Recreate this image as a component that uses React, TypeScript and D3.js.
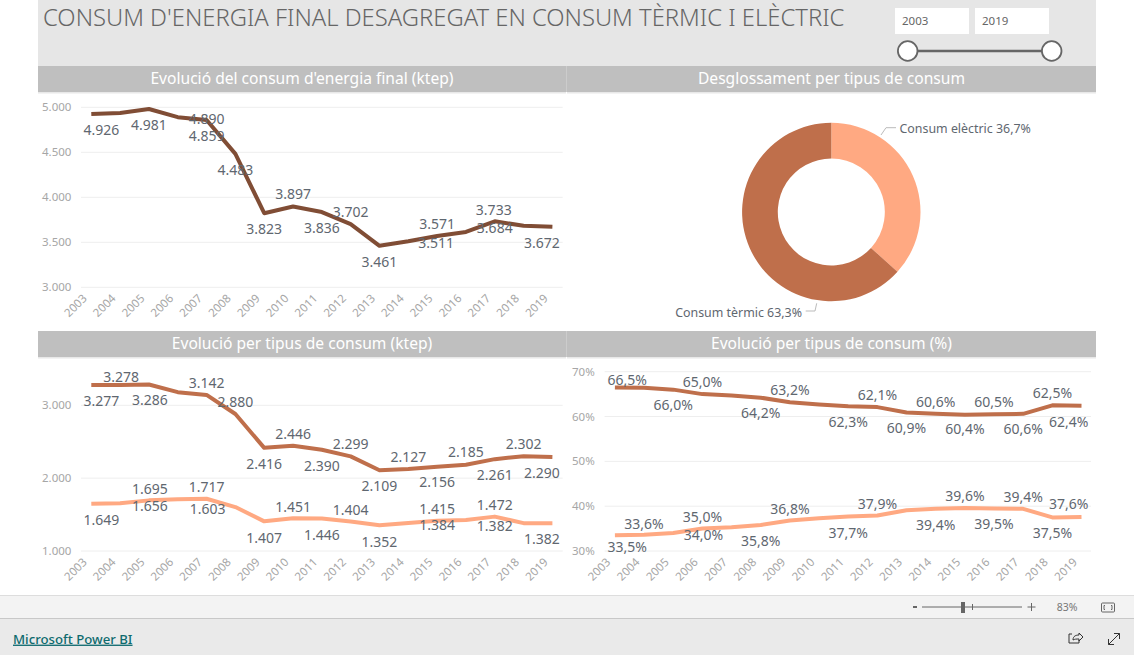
import * as d3 from "d3";

const years = d3.range(2003, 2020);

const totalKtep = [4926, 4937, 4981, 4890, 4859, 4483, 3823, 3897, 3836, 3702, 3461, 3511, 3571, 3615, 3733, 3684, 3672];
const thermalKtep = [3277, 3278, 3286, 3180, 3142, 2880, 2416, 2446, 2390, 2299, 2109, 2127, 2156, 2185, 2261, 2302, 2290];
const electricKtep = [1649, 1656, 1695, 1712, 1717, 1603, 1407, 1451, 1446, 1404, 1352, 1384, 1415, 1425, 1472, 1382, 1382];
const thermalPct = [66.5, 66.4, 66.0, 65.0, 64.7, 64.2, 63.2, 62.7, 62.3, 62.1, 60.9, 60.6, 60.4, 60.5, 60.6, 62.5, 62.4];
const electricPct = [33.5, 33.6, 34.0, 35.0, 35.3, 35.8, 36.8, 37.3, 37.7, 37.9, 39.1, 39.4, 39.6, 39.5, 39.4, 37.5, 37.6];

const ktepTicks1 = [3000, 3500, 4000, 4500, 5000];
const ktepTicks2 = [1000, 2000, 3000];
const pctTicks = [30, 40, 50, 60, 70];

const donutNames = ["Consum elèctric", "Consum tèrmic"];
const donutValues = [36.7, 63.3];

// label layout: [year of the value, year it is printed under, dy, dx]
type Lab = [number, number, number, number];
const totalLabels: Lab[] = [
  [2003, 2003, 16, 10], [2005, 2005, 15.7, 0], [2006, 2007, 1.5, 0], [2007, 2007, 15.7, 0],
  [2008, 2008, 15.9, 0], [2009, 2009, 15.8, 0], [2010, 2010, -12.3, 0], [2011, 2011, 15.7, 0],
  [2012, 2012, -12.1, 0], [2013, 2013, 15.9, 0], [2014, 2015, 1.4, -1], [2015, 2015, -12.2, 0],
  [2017, 2017, -11.6, -1], [2018, 2017, 2.6, 0], [2019, 2019, 15.9, -10.5],
];
const thermalLabels: Lab[] = [
  [2003, 2003, 15.6, 10], [2004, 2004, -8.3, 1], [2005, 2005, 15.5, 1], [2007, 2007, -12.3, 0],
  [2008, 2008, -12.3, 0], [2009, 2009, 15.9, 0], [2010, 2010, -12, 0], [2011, 2011, 16.3, 0],
  [2012, 2012, -12, 0], [2013, 2013, 15.5, 0], [2014, 2014, -12.2, 0], [2015, 2015, 15.5, 0],
  [2016, 2016, -12.4, 0], [2017, 2017, 15.9, 0], [2018, 2018, -12.1, 0], [2019, 2019, 15.7, -10.5],
];
const electricLabels: Lab[] = [
  [2003, 2003, 16, 10], [2004, 2005, 2.5, 1], [2005, 2005, -11.4, 1], [2007, 2007, -11.8, 0],
  [2008, 2007, 1.9, 1], [2009, 2009, 16.4, 0], [2010, 2010, -11.4, 0], [2011, 2011, 16.5, 0],
  [2012, 2012, -11.9, 0], [2013, 2013, 16.3, 0], [2014, 2015, 2, 0], [2015, 2015, -11.8, 0],
  [2017, 2017, -11.9, 0], [2018, 2017, 2.8, 0], [2019, 2019, 15.8, -10.5],
];
const thermalPctLabels: Lab[] = [
  [2003, 2003, -7.4, 12.4], [2005, 2005, 15.4, 0], [2006, 2006, -12.1, 0], [2008, 2008, 15.3, 0],
  [2009, 2009, -12.2, 0], [2011, 2011, 15.5, 0], [2012, 2012, -12.4, 0], [2013, 2013, 15.2, 0],
  [2014, 2014, -12.1, 0], [2015, 2015, 14.6, 0], [2016, 2016, -12.6, 0], [2017, 2017, 15.5, 0],
  [2018, 2018, -12.6, 0], [2019, 2019, 16.5, -12.7],
];
const electricPctLabels: Lab[] = [
  [2003, 2003, 11.7, 12.4], [2004, 2004, -11.2, 0], [2005, 2006, 2.2, 1], [2006, 2006, -11.9, 0],
  [2008, 2008, 16, 0], [2009, 2009, -11.5, 0], [2011, 2011, 16.2, 0], [2012, 2012, -11.9, 0],
  [2014, 2014, 16.1, 0], [2015, 2015, -12.3, 0], [2016, 2016, 15.3, 0], [2017, 2017, -12.2, 0],
  [2018, 2018, 15.3, 0], [2019, 2019, -12.6, -12.7],
];

const FONT = "'Noto Sans', sans-serif";
const DARK = "#804d35";
const THERMAL = "#bf6f4b";
const ELECTRIC = "#ffa982";
const LABEL = "#5f6770";
const TICK = "#a6a6a6";

const locale = d3.formatLocale({ decimal: ",", thousands: ".", grouping: [3], currency: ["", "€"] });
const fmtKtep = locale.format(",.0f");
const fmtPct1 = (v: number) => locale.format(".1f")(v) + "%";
const fmtPct0 = (v: number) => v + "%";

interface Series {
  values: number[];
  color: string;
  labels: Lab[];
}

interface ChartProps {
  series: Series[];
  ticks: number[];
  fmtTick: (v: number) => string;
  fmtLabel: (v: number) => string;
  xRange: [number, number];
  gridRange: [number, number];
  yDomain: [number, number];
  yRange: [number, number];
  tickX: number;
}

function LineChart({ series, ticks, fmtTick, fmtLabel, xRange, gridRange, yDomain, yRange, tickX }: ChartProps) {
  const x = d3.scalePoint<number>().domain(years).range(xRange);
  const y = d3.scaleLinear().domain(yDomain).range(yRange);
  const line = d3
    .line<number>()
    .x((_, i) => x(years[i]) as number)
    .y((d) => y(d));
  return (
    <g fontFamily={FONT}>
      {ticks.map((t) => (
        <g key={t}>
          <line x1={gridRange[0]} x2={gridRange[1]} y1={y(t)} y2={y(t)} stroke="#eeeeee" />
          <text x={tickX} y={y(t)} dy="0.35em" fontSize={11.5} fill={TICK}>
            {fmtTick(t)}
          </text>
        </g>
      ))}
      {years.map((yr) => (
        <text
          key={yr}
          transform={`translate(${(x(yr) as number) - 6.5},${yRange[0] + 9}) rotate(-45)`}
          textAnchor="end"
          dy="0.35em"
          fontSize={11.5}
          fill={TICK}
        >
          {yr}
        </text>
      ))}
      {series.map((s, i) => (
        <path key={i} d={line(s.values) as string} fill="none" stroke={s.color} strokeWidth={4} strokeLinejoin="round" />
      ))}
      {series.map((s, i) =>
        s.labels.map(([yr, at, dy, dx], j) => {
          const v = s.values[years.indexOf(yr)];
          return (
            <text
              key={`${i}-${j}`}
              x={(x(at) as number) + dx}
              y={y(v) + dy}
              dy="0.35em"
              textAnchor="middle"
              fontSize={14}
              fill={LABEL}
            >
              {fmtLabel(v)}
            </text>
          );
        })
      )}
    </g>
  );
}

function Donut() {
  const pie = d3.pie<number>().sort(null);
  const arc = d3.arc<d3.PieArcDatum<number>>().innerRadius(53.5).outerRadius(89.2);
  const slices = pie(donutValues);
  const colors = [ELECTRIC, THERMAL];
  return (
    <g fontFamily={FONT}>
      <g transform="translate(831.3,212)">
        {slices.map((s, i) => (
          <path key={i} d={arc(s) as string} fill={colors[i]} />
        ))}
      </g>
      <polyline points="881,135 886,127.7 896,127.7" fill="none" stroke="#bbbbbb" />
      <polyline points="816.7,303.3 815,311 805.7,311" fill="none" stroke="#bbbbbb" />
      <text x={899.5} y={128.5} dy="0.35em" fontSize={12.4} fill={LABEL}>
        {donutNames[0]} {locale.format(".1f")(donutValues[0])}%
      </text>
      <text x={802} y={312.5} dy="0.35em" textAnchor="end" fontSize={12.4} fill={LABEL}>
        {donutNames[1]} {locale.format(".1f")(donutValues[1])}%
      </text>
    </g>
  );
}

function Header({ x, y, w, label }: { x: number; y: number; w: number; label: string }) {
  return (
    <g>
      <rect x={x} y={y} width={w} height={26} fill="#bfbfbf" />
      <rect x={x} y={y + 26} width={w} height={1.5} fill="#e8e8e8" />
      <text x={x + w / 2} y={y + 13} dy="0.35em" textAnchor="middle" fontFamily={FONT} fontSize={15.6} fill="#ffffff">
        {label}
      </text>
    </g>
  );
}

export default function App() {
  return (
    <svg
      width={1134}
      height={655}
      style={{ position: "absolute", left: 0, top: 0, display: "block" }}
    >
      <rect width={1134} height={655} fill="#ffffff" />
      <rect x={38} y={0} width={1058} height={66} fill="#e6e6e6" />
      <text x={43} y={18} dy="0.35em" fontFamily={FONT} fontWeight={300} fontSize={23.8} fill="#666666">
        CONSUM D'ENERGIA FINAL DESAGREGAT EN CONSUM TÈRMIC I ELÈCTRIC
      </text>

      {/* year slicer */}
      <g fontFamily={FONT} fontSize={11.5} fill="#666666">
        <rect x={895} y={8} width={74} height={26} fill="#ffffff" />
        <rect x={975} y={8} width={74} height={26} fill="#ffffff" />
        <text x={902} y={21} dy="0.35em">{years[0]}</text>
        <text x={982} y={21} dy="0.35em">{years[years.length - 1]}</text>
      </g>
      <line x1={908} x2={1051} y1={51} y2={51} stroke="#666666" strokeWidth={2.5} />
      <circle cx={907.7} cy={51} r={9.8} fill="#ffffff" stroke="#666666" strokeWidth={1.8} />
      <circle cx={1051.7} cy={51} r={9.8} fill="#ffffff" stroke="#666666" strokeWidth={1.8} />

      <Header x={38} y={66} w={528} label="Evolució del consum d'energia final (ktep)" />
      <Header x={567} y={66} w={529} label="Desglossament per tipus de consum" />
      <Header x={38} y={331} w={528} label="Evolució per tipus de consum (ktep)" />
      <Header x={567} y={331} w={529} label="Evolució per tipus de consum (%)" />
      <rect x={566} y={66} width={1} height={26} fill="#cccccc" />
      <rect x={566} y={331} width={1} height={26} fill="#cccccc" />

      <LineChart
        series={[{ values: totalKtep, color: DARK, labels: totalLabels }]}
        ticks={ktepTicks1}
        fmtTick={fmtKtep}
        fmtLabel={fmtKtep}
        xRange={[91.3, 552.4]}
        gridRange={[81, 562.7]}
        yDomain={[3000, 5000]}
        yRange={[287.3, 107.3]}
        tickX={42}
      />
      <Donut />
      <LineChart
        series={[
          { values: thermalKtep, color: THERMAL, labels: thermalLabels },
          { values: electricKtep, color: ELECTRIC, labels: electricLabels },
        ]}
        ticks={ktepTicks2}
        fmtTick={fmtKtep}
        fmtLabel={fmtKtep}
        xRange={[91.3, 552.4]}
        gridRange={[81, 562.7]}
        yDomain={[1000, 3000]}
        yRange={[551, 405.3]}
        tickX={42}
      />
      <LineChart
        series={[
          { values: thermalPct, color: THERMAL, labels: thermalPctLabels },
          { values: electricPct, color: ELECTRIC, labels: electricPctLabels },
        ]}
        ticks={pctTicks}
        fmtTick={fmtPct0}
        fmtLabel={fmtPct1}
        xRange={[614.9, 1081.5]}
        gridRange={[604.6, 1091]}
        yDomain={[30, 70]}
        yRange={[551, 371.7]}
        tickX={572}
      />

      {/* report footer */}
      <rect x={0} y={595} width={1134} height={24} fill="#f3f3f3" />
      <line x1={0} x2={1134} y1={595.5} y2={595.5} stroke="#dddddd" />
      <rect x={0} y={619} width={1134} height={36} fill="#eaeaea" />
      <line x1={0} x2={1134} y1={618.5} y2={618.5} stroke="#c8c8c8" />
      <text x={13} y={639} dy="0.35em" fontFamily={FONT} fontWeight={500} fontSize={13.2} fill="#0e6a6e" textDecoration="underline">
        Microsoft Power BI
      </text>
      <g fontFamily={FONT} fill="#555555">
        <rect x={913} y={606} width={4} height={2} fill="#666666" />
        <line x1={922} x2={1022} y1={607} y2={607} stroke="#666666" />
        <rect x={961} y={602} width={4} height={11} fill="#666666" />
        <line x1={972.5} x2={972.5} y1={604} y2={610} stroke="#666666" />
        <path d="M1027.5 607h8M1031.5 603v8" stroke="#666666" fill="none" />
        <text x={1067} y={607} dy="0.35em" textAnchor="middle" fontSize={10.5} fill="#777777">83%</text>
        <rect x={1101.5} y={603} width={13} height={9} rx={1} fill="#f3f3f3" stroke="#666666" />
        <path d="M1105 605.5h-1v4h1M1111 605.5h1v4h-1" stroke="#666666" fill="none" />
      </g>
      <path d="M1072 634h-3v9h10v-3M1073 640c0-4 3-5 6-5v-2l4 4-4 4v-2c-3 0-4 0-6 1z" fill="none" stroke="#333333" />
      <path d="M1108.5 644.5l11-11M1114 633.5h5.5v5.5M1108.5 639v5.5h5.5" fill="none" stroke="#333333" />
    </svg>
  );
}
